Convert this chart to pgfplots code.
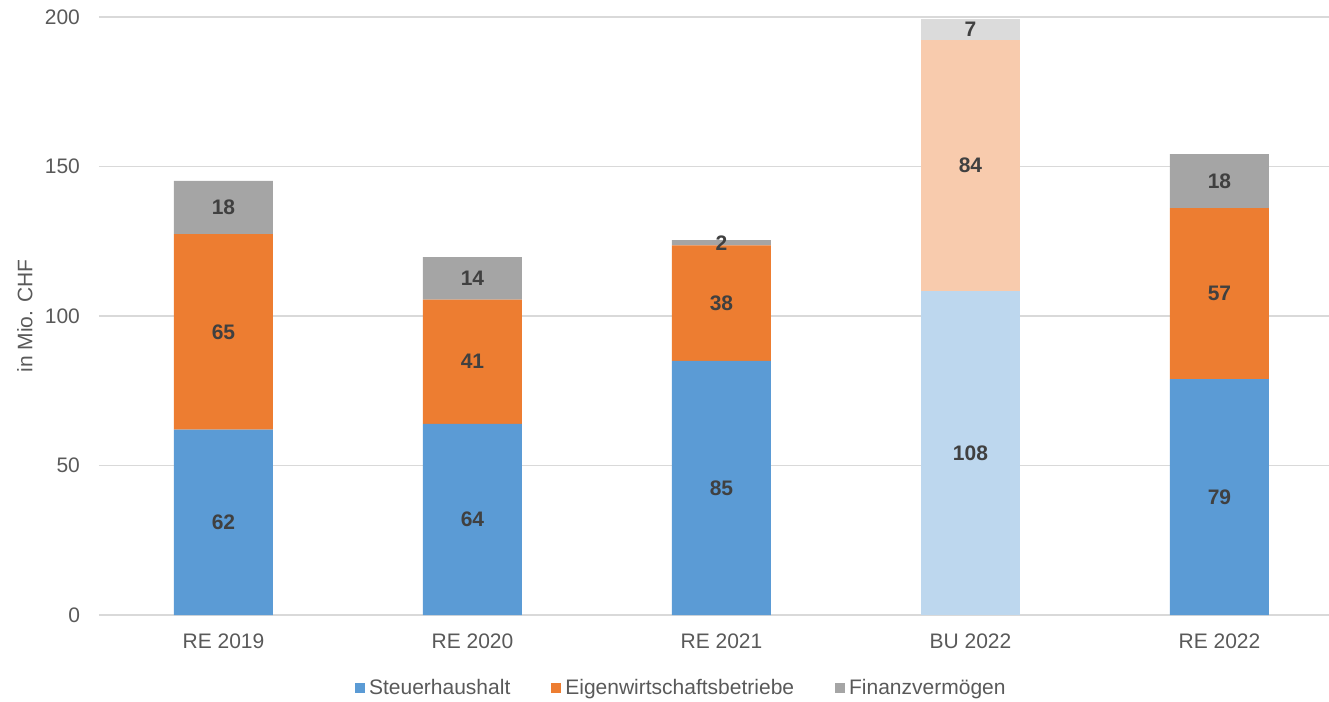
\documentclass[border=0pt]{standalone}
\usepackage{fontspec}
\setmainfont{Liberation Sans}
\usepackage{pgfplots}
\usepackage{pgfplotstable}
\pgfplotsset{compat=1.18}
\definecolor{cS}{HTML}{5B9BD5}
\definecolor{cE}{HTML}{ED7D31}
\definecolor{cF}{HTML}{A5A5A5}
\definecolor{lS}{HTML}{BDD7EE}
\definecolor{lE}{HTML}{F8CBAD}
\definecolor{lF}{HTML}{DBDBDB}
\definecolor{txt}{HTML}{595959}
\definecolor{lbl}{HTML}{404040}
\definecolor{grd}{HTML}{D9D9D9}

\pgfplotstableread{
x s e f ls le lf
0 62.0 65.4 17.8 62 65 18
1 63.9 41.6 14.2 64 41 14
2 85.0 38.6 1.8 85 38 2
4 78.9 57.2 18.0 79 57 18
}\RE
\pgfplotstableread{
x s e f ls le lf
3 108.3 84.0 6.9 108 84 7
}\BU

\pgfplotsset{
  base/.style={
    scale only axis, width=615pt, height=299pt,
    xmin=-0.5, xmax=4.44, ymin=0, ymax=200,
    ybar stacked, bar width=49.5pt,
    font=\fontsize{10.5}{12.6}\selectfont,
    /pgf/number format/assume math mode=true,
    axis line style={draw=none}, tick style={draw=none},
    major tick length=0pt,
    xtick={0,1,2,3,4},
    xticklabels={RE 2019,RE 2020,RE 2021,BU 2022,RE 2022},
    ytick={0,50,100,150,200},
    ymajorgrids, grid style={grd, line width=0.75pt},
    yticklabel style={text=txt, xshift=-6pt},
    xticklabel style={text=txt, yshift=-6pt},
    point meta=explicit,
    nodes near coords,
    every node near coord/.append style={font=\fontsize{10.5}{12.6}\selectfont\bfseries, text=lbl, anchor=center},
  },
}

\begin{document}
\begin{tikzpicture}
\begin{axis}[base,
  ylabel={in Mio. CHF},
  every axis y label/.style={at={(axis description cs:-0.0602,0.5)}, rotate=90, anchor=center, text=txt},
  legend columns=3,
  legend style={at={(axis description cs:0.203,-0.122)}, anchor=west, draw=none, fill=none,
    font=\fontsize{10.5}{12.6}\selectfont, text=txt,
    /tikz/every even column/.append style={column sep=18.5pt}},
  legend image code/.code={\fill[#1] (0pt,-2.5pt) rectangle (5pt,2.5pt);},
]
\coordinate (sw) at (rel axis cs:0,0);
\coordinate (ne) at (rel axis cs:1,1);
\addplot[fill=cS, draw=none] table[x=x, y=s, meta=ls] {\RE};
\addlegendentry{Steuerhaushalt}
\addplot[fill=cE, draw=none] table[x=x, y=e, meta=le] {\RE};
\addlegendentry{Eigenwirtschaftsbetriebe}
\addplot[fill=cF, draw=none] table[x=x, y=f, meta=lf] {\RE};
\addlegendentry{Finanzvermögen}
\end{axis}
\begin{axis}[base, hide axis]
\addplot[fill=lS, draw=none] table[x=x, y=s, meta=ls] {\BU};
\addplot[fill=lE, draw=none] table[x=x, y=e, meta=le] {\BU};
\addplot[fill=lF, draw=none] table[x=x, y=f, meta=lf] {\BU};
\end{axis}
\pgfresetboundingbox
\path ([shift={(-49.5pt,-43.5pt)}]sw) rectangle ([yshift=8.5pt]ne);
\end{tikzpicture}
\end{document}
